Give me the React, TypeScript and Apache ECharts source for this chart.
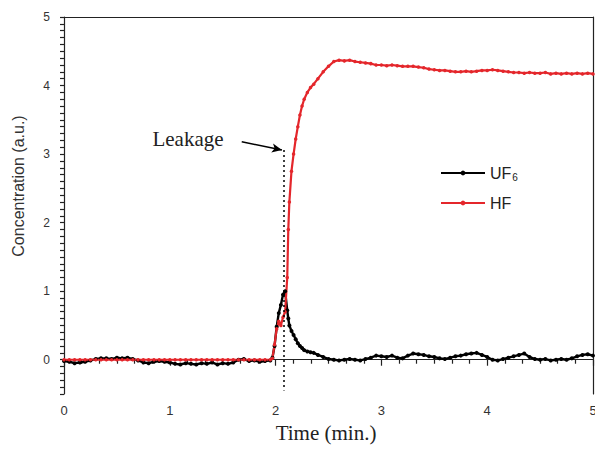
import React, { useEffect, useRef } from "react";
import * as echarts from "echarts";

const times = [
  0, 0.05, 0.1, 0.15, 0.2, 0.25, 0.3, 0.35, 0.4, 0.45, 0.5, 0.55, 0.6, 0.65, 0.7, 0.75, 0.8, 0.85, 0.9, 0.95,
  1.0, 1.05, 1.1, 1.15, 1.2, 1.25, 1.3, 1.35, 1.4, 1.45, 1.5, 1.55, 1.6, 1.65, 1.7, 1.75, 1.8, 1.85, 1.9, 1.95,
  1.97, 1.99, 2.01, 2.03, 2.05, 2.07, 2.09, 2.11, 2.12, 2.13, 2.15, 2.17, 2.19, 2.21, 2.23, 2.25, 2.27, 2.3, 2.33, 2.36, 2.4, 2.45,
  2.5, 2.55, 2.6, 2.65, 2.7, 2.75, 2.8, 2.85, 2.9, 2.95, 3.0, 3.05, 3.1, 3.15, 3.2, 3.25, 3.3, 3.35, 3.4, 3.45,
  3.5, 3.55, 3.6, 3.65, 3.7, 3.75, 3.8, 3.85, 3.9, 3.95, 4.0, 4.05, 4.1, 4.15, 4.2, 4.25, 4.3, 4.35, 4.4, 4.45,
  4.5, 4.55, 4.6, 4.65, 4.7, 4.75, 4.8, 4.85, 4.9, 4.95, 5.0,
];

const uf6Values = [
  -0.02, -0.03, -0.05, -0.04, -0.03, -0.01, 0.01, 0.02, 0.02, 0.01, 0.03, 0.02, 0.03, 0.01, -0.01, -0.04, -0.05, -0.03, -0.02, -0.03,
  -0.04, -0.06, -0.07, -0.05, -0.06, -0.07, -0.05, -0.06, -0.04, -0.07, -0.05, -0.06, -0.04, 0.0, 0.01, -0.02, -0.01, -0.03, -0.02, -0.01,
  0.03, 0.2, 0.48, 0.68, 0.8, 0.95, 1.0, 0.72, 0.6, 0.5, 0.42, 0.36, 0.3, 0.24, 0.2, 0.17, 0.14, 0.12, 0.11, 0.1, 0.07, 0.04,
  0.01, 0.0, -0.01, 0.0, 0.01, 0.0, -0.01, 0.01, 0.03, 0.06, 0.05, 0.04, 0.06, 0.03, 0.02, 0.06, 0.09, 0.08, 0.07, 0.05,
  0.04, 0.02, 0.01, 0.03, 0.05, 0.06, 0.08, 0.09, 0.1, 0.07, 0.04, 0.0, -0.01, 0.01, 0.03, 0.05, 0.07, 0.09, 0.04, 0.01,
  0.0, 0.01, -0.01, 0.0, 0.01, 0.0, 0.02, 0.05, 0.07, 0.08, 0.06,
];

const hfValues = [
  0, 0, 0, 0, 0, 0, 0, 0, 0, 0, 0, 0, 0, 0, 0, 0, 0, 0, 0, 0,
  0, 0, 0, 0, 0, 0, 0, 0, 0, 0, 0, 0, 0, 0, 0, 0, 0, 0, 0, 0,
  0.02, 0.22, 0.45, 0.56, 0.5, 0.62, 0.7, 1.2, 1.9, 2.3, 2.75, 3.0, 3.22, 3.4, 3.57, 3.7, 3.8, 3.9, 3.97, 4.02, 4.1, 4.2,
  4.28, 4.35, 4.37, 4.36, 4.37, 4.35, 4.34, 4.33, 4.32, 4.3, 4.3, 4.29, 4.3, 4.29, 4.28, 4.28, 4.28, 4.27, 4.26, 4.24,
  4.23, 4.22, 4.22, 4.21, 4.2, 4.2, 4.21, 4.2, 4.21, 4.22, 4.22, 4.23, 4.22, 4.21, 4.2, 4.19, 4.19, 4.18, 4.19, 4.18,
  4.18, 4.19, 4.17, 4.18, 4.17, 4.18, 4.17, 4.18, 4.17, 4.18, 4.17,
];

const leakTime = 2.08;
const leakTop = 3.06;
const leakBottom = -0.45;
const arrowStart = [1.68, 3.18];
const arrowEnd = [2.06, 3.06];

export default function App() {
  const ref = useRef<HTMLDivElement>(null);
  useEffect(() => {
    document.body.style.margin = "0";
    document.body.style.overflow = "hidden";
    if (!ref.current) return;
    const chart = echarts.init(ref.current, null, { renderer: "svg", width: 595, height: 450 });
    const uf6 = times.map((t, i) => [t, uf6Values[i]]);
    const hf = times.map((t, i) => [t, hfValues[i]]);
    const axisColor = "#222";
    const labelFont = "'Liberation Sans', Arial, sans-serif";
    const serif = "'Liberation Serif', 'Times New Roman', serif";
    chart.setOption({
      animation: false,
      backgroundColor: "#fff",
      grid: { left: 64, right: 2, top: 17, bottom: 56, containLabel: false, outerBoundsMode: "none" },
      xAxis: [
        {
          type: "value",
          min: 0,
          max: 5,
          interval: 1,
          position: "bottom",
          axisLine: { lineStyle: { color: axisColor, width: 1.2 } },
          axisTick: { inside: false, length: 6, lineStyle: { color: axisColor, width: 1.2 } },
          minorTick: { show: true, splitNumber: 6, length: 4, lineStyle: { color: axisColor, width: 1.2 } },
          splitLine: { show: false },
          axisLabel: { margin: 10, fontSize: 13, color: "#333", fontFamily: labelFont },
        },
        {
          type: "value",
          min: 0,
          max: 5,
          position: "top",
          axisLine: { show: true, onZero: false, lineStyle: { color: axisColor, width: 1.2 } },
          axisTick: { show: false },
          axisLabel: { show: false },
          splitLine: { show: false },
        },
      ],
      yAxis: [
        {
          type: "value",
          min: -0.5,
          max: 5,
          interval: 0.1,
          axisLine: { show: true, onZero: false, lineStyle: { color: axisColor, width: 1.2 } },
          axisTick: { show: true, length: 4, lineStyle: { color: axisColor, width: 1.2 } },
          splitLine: { show: false },
          axisLabel: {
            margin: 14,
            fontSize: 12,
            color: "#333",
            fontFamily: labelFont,
            formatter: (v: number) => (Math.abs(v - Math.round(v)) < 1e-6 ? String(Math.round(v)) : ""),
          },
        },
        {
          type: "value",
          min: -0.5,
          max: 5,
          position: "right",
          axisLine: { show: true, onZero: false, lineStyle: { color: axisColor, width: 1.2 } },
          axisTick: { show: false },
          axisLabel: { show: false },
          splitLine: { show: false },
        },
      ],
      legend: [
        {
          data: ["UF6"],
          left: 435,
          top: 160,
          itemWidth: 44,
          itemHeight: 6,
          itemGap: 0,
          formatter: () => "{n|UF}{s|6}",
          textStyle: {
            color: "#222",
            rich: {
              n: { fontSize: 16, fontFamily: labelFont, color: "#222" },
              s: { fontSize: 10, fontFamily: labelFont, color: "#222", padding: [9, 0, 0, 1] },
            },
          },
        },
        {
          data: ["HF"],
          left: 435,
          top: 190,
          itemWidth: 44,
          itemHeight: 6,
          itemGap: 0,
          textStyle: { color: "#222", fontSize: 16, fontFamily: labelFont },
        },
      ],
      graphic: [
        {
          type: "text",
          x: 18,
          y: 186,
          rotation: Math.PI / 2,
          style: {
            text: "Concentration (a.u.)",
            fontSize: 16,
            fontFamily: labelFont,
            fill: "#333",
            textAlign: "center",
            textVerticalAlign: "middle",
          },
        },
        {
          type: "text",
          x: 326,
          y: 433,
          style: {
            text: "Time (min.)",
            fontSize: 21,
            fontFamily: serif,
            fill: "#222",
            textAlign: "center",
            textVerticalAlign: "middle",
          },
        },
        {
          type: "text",
          x: 188,
          y: 139,
          style: {
            text: "Leakage",
            fontSize: 21,
            fontFamily: serif,
            fill: "#222",
            textAlign: "center",
            textVerticalAlign: "middle",
          },
        },
      ],
      series: [
        {
          name: "UF6",
          type: "line",
          data: uf6,
          color: "#000",
          symbol: "circle",
          symbolSize: 4,
          showSymbol: true,
          lineStyle: { color: "#000", width: 2.4 },
          itemStyle: { color: "#000" },
        },
        {
          name: "HF",
          type: "line",
          data: hf,
          color: "#e4262b",
          symbol: "circle",
          symbolSize: 3.5,
          showSymbol: true,
          lineStyle: { color: "#e4262b", width: 2.2 },
          itemStyle: { color: "#e4262b" },
          markLine: {
            silent: true,
            label: { show: false },
            symbol: ["none", "none"],
            data: [
              [
                { coord: [leakTime, leakTop], lineStyle: { color: "#000", type: [2, 3], width: 1.5 } },
                { coord: [leakTime, leakBottom] },
              ],
              [
                { coord: arrowStart, symbol: "none", lineStyle: { color: "#000", type: "solid", width: 1.5 } },
                { coord: arrowEnd, symbol: "arrow", symbolSize: [7, 10] },
              ],
            ],
          },
        },
      ],
    });
    return () => chart.dispose();
  }, []);
  return <div ref={ref} style={{ position: "absolute", left: 0, top: 0, width: 595, height: 450 }} />;
}
